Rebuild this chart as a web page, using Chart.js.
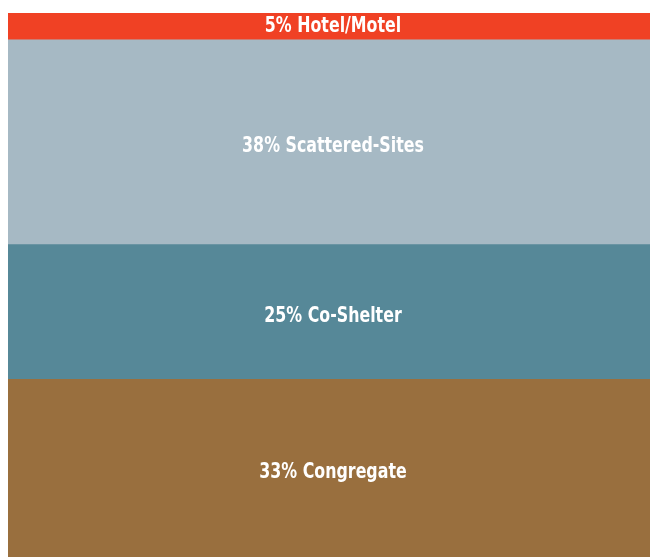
<!DOCTYPE html>
<html>
<head>
<meta charset="utf-8">
<script src="https://cdn.jsdelivr.net/npm/chart.js@4/dist/chart.umd.min.js"></script>
<style>
html,body{margin:0;padding:0;background:#fff;}
#wrap{width:650px;height:557px;position:relative;}
</style>
</head>
<body>
<div id="wrap"><canvas id="c"></canvas></div>
<script>
const categories = ['Shelter type'];
const seriesNames = ['Congregate', 'Co-Shelter', 'Scattered-Sites', 'Hotel/Motel'];
const seriesValues = [33, 25, 38, 5];
const seriesColors = ['#996F3E', '#568898', '#A6B9C4', '#F04124'];

const total = seriesValues.reduce((a, b) => a + b, 0);

const labelPlugin = {
  id: 'segLabels',
  afterDatasetsDraw(chart) {
    const ctx = chart.ctx;
    chart.data.datasets.forEach((ds, i) => {
      const meta = chart.getDatasetMeta(i);
      meta.data.forEach((bar) => {
        const p = bar.getProps(['x', 'y', 'base'], true);
        const cy = (p.y + p.base) / 2;
        ctx.save();
        ctx.translate(p.x + 4, cy + (ds.data[0] < 10 ? 0 : 4));
        ctx.scale(0.8, 1);
        ctx.fillStyle = '#ffffff';
        ctx.textAlign = 'center';
        ctx.textBaseline = 'middle';
        ctx.font = 'bold 22px "Liberation Sans Narrow", "DejaVu Sans Condensed", sans-serif';
        ctx.fillText(ds.data[0] + '% ' + ds.label, 0, 0);
        ctx.restore();
      });
    });
  }
};

new Chart(document.getElementById('c'), {
  type: 'bar',
  data: {
    labels: categories,
    datasets: seriesNames.map((n, i) => ({
      label: n,
      data: [seriesValues[i]],
      backgroundColor: seriesColors[i],
      borderWidth: 0,
      barPercentage: 1,
      categoryPercentage: 1
    }))
  },
  options: {
    responsive: true,
    maintainAspectRatio: false,
    animation: false,
    layout: { padding: { left: 8, top: 13, right: 0, bottom: 0 } },
    plugins: { legend: { display: false }, tooltip: { enabled: false } },
    scales: {
      x: { stacked: true, display: false },
      y: { stacked: true, display: false, min: 0, max: total }
    }
  },
  plugins: [labelPlugin]
});
</script>
</body>
</html>
